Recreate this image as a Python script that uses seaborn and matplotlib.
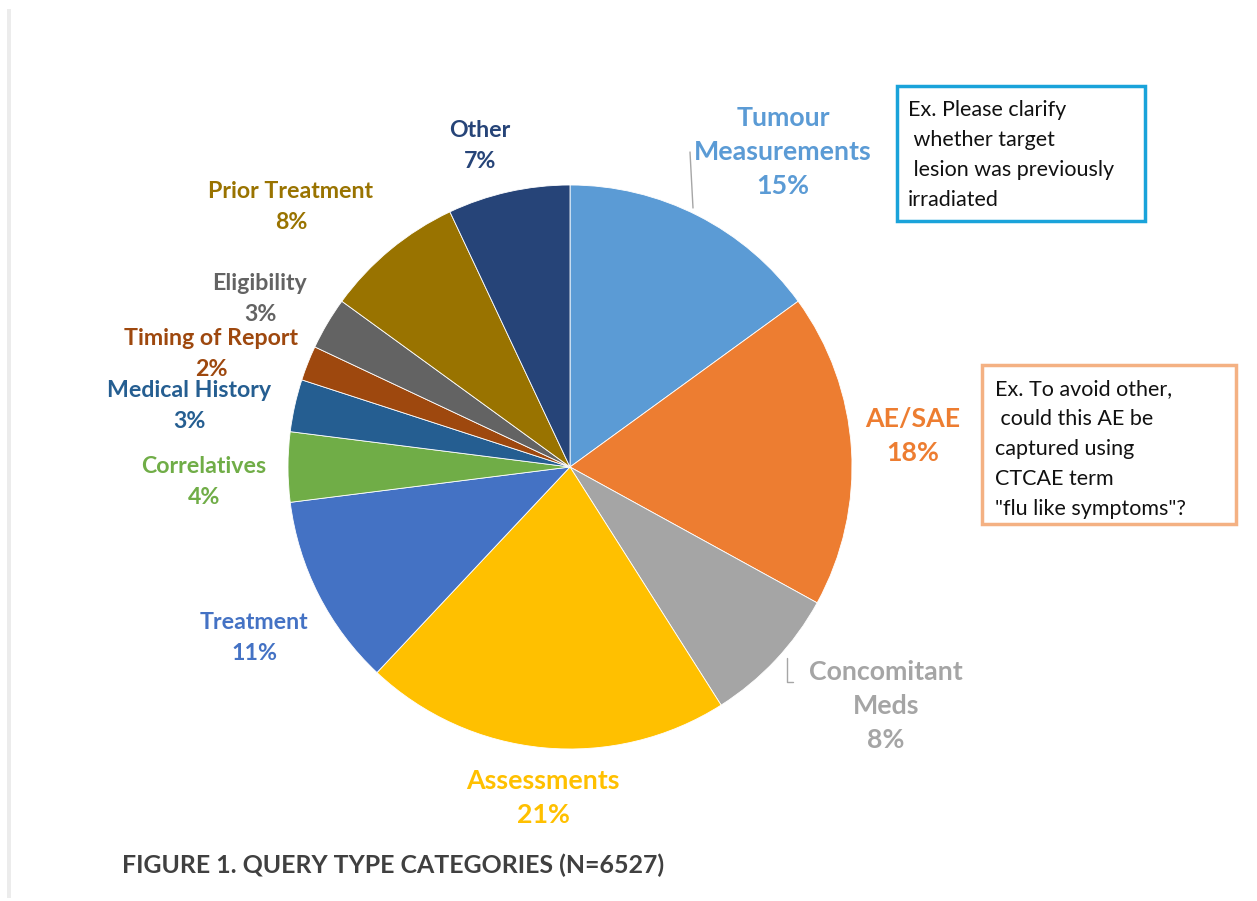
"""
Query type categories pie chart (N=6527)
"""

import matplotlib.pyplot as plt
import seaborn as sns
from matplotlib.patches import Rectangle

# ---------- data ----------
categories = ["Tumour\nMeasurements", "AE/SAE", "Concomitant\nMeds", "Assessments",
              "Treatment", "Correlatives", "Medical History", "Timing of Report",
              "Eligibility", "Prior Treatment", "Other"]
shares = [15, 18, 8, 21, 11, 4, 3, 2, 3, 8, 7]
slice_colors = ["#5B9BD5", "#ED7D31", "#A5A5A5", "#FFC000", "#4472C4", "#70AD47",
                "#255E91", "#9E480E", "#636363", "#997300", "#264478"]

box_texts = ["Ex. Please clarify\n whether target\n lesion was previously\nirradiated",
             "Ex. To avoid other,\n could this AE be\ncaptured using\nCTCAE term\n\"flu like symptoms\"?"]
caption = "FIGURE 1. QUERY TYPE CATEGORIES (N=6527)"

# ---------- layout (pixel coords, y from top) ----------
W, H = 1257, 901
CX, CY, R = 570, 467, 282
label_pos = [(783, 152), (913, 436), (886, 706), (543, 798), (254, 638), (204, 482),
             (189, 406), (211, 354), (260, 299), (291, 207), (480, 146)]
label_size = [19.3, 19.3, 19.3, 19.3, 16.7, 16.7, 16.7, 16.7, 16.7, 16.7, 16.7]
line_gap = [1.5, 1.5, 1.5, 1.5, 1.62, 1.62, 1.62, 1.62, 1.62, 1.62, 1.62]

sns.set_theme(style="white")
plt.rcParams["font.family"] = ["Lato", "DejaVu Sans"]
palette = sns.color_palette(slice_colors)

fig = plt.figure(figsize=(W / 100, H / 100), dpi=100)
ax = fig.add_axes([0, 0, 1, 1])

ax.pie(shares, colors=palette, startangle=90, counterclock=False,
       center=(CX, H - CY), radius=R,
       wedgeprops=dict(linewidth=0.6, edgecolor="white"))
ax.set_xlim(0, W)
ax.set_ylim(0, H)
ax.set_aspect("equal")
ax.axis("off")

# category labels
for name, val, (x, y), col, fs, gap in zip(categories, shares, label_pos,
                                           slice_colors, label_size, line_gap):
    ax.text(x, H - y, f"{name}\n{val}%", color=col, fontsize=fs, fontweight="bold",
            ha="center", va="center", linespacing=gap)

# leader lines
ax.plot([693, 690], [H - 208, H - 152], color="#a6a6a6", lw=1)
ax.plot([793, 787, 787], [H - 682, H - 682, H - 658], color="#a6a6a6", lw=1)

# example boxes
ax.add_patch(Rectangle((897, H - 221), 248, 135, fill=False, ec="#1AA3DA", lw=2.5))
ax.text(908, H - 100, box_texts[0], fontsize=15.5, color="#111111",
        ha="left", va="top", linespacing=1.62)
ax.add_patch(Rectangle((982, H - 524), 254, 159, fill=False, ec="#F4B183", lw=2.5))
ax.text(995, H - 379, box_texts[1], fontsize=15.5, color="#111111",
        ha="left", va="top", linespacing=1.62)

# left grey rule
ax.add_patch(Rectangle((7, 3), 4, H - 12, color="#ececec", lw=0))

ax.text(122, H - 865, caption, fontsize=17.9, fontweight="bold", color="#404040",
        ha="left", va="center")

fig.savefig("out.png", dpi=100)
